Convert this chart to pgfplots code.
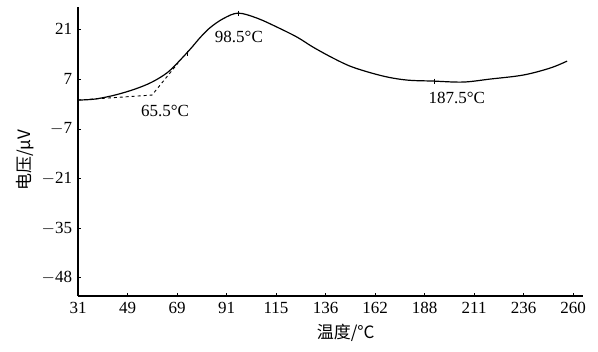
\documentclass[border=0pt]{standalone}
\usepackage{pgfplots}
\pgfplotsset{compat=1.18}
\usepackage{fontspec}
\setmainfont{Liberation Serif}
\newfontfamily\cjk{Noto Sans CJK SC}
\begin{document}
\fontsize{17bp}{20bp}\selectfont
\begin{tikzpicture}[x=1bp,y=1bp]
\path[use as bounding box] (0,0) rectangle (598,351);
\begin{axis}[
  at={(78bp,55bp)}, anchor=south west,
  scale only axis, width=505bp, height=289bp,
  xmin=0, xmax=10.2, ymin=-53.8, ymax=27.2,
  axis lines=left,
  axis line style={-, line width=1.5bp},
  xtick={0,1,2,3,4,5,6,7,8,9,10},
  xticklabels={31,49,69,91,115,136,162,188,211,236,260},
  ytick={21,7,-7,-21,-35,-48.7},
  yticklabels={21,7,$-$7,$-$21,$-$35,$-$48},
  tick align=inside, major tick length=3bp,
  tick style={line width=1bp, black},
  /pgf/number format/assume math mode=true,
  xlabel={\cjk 温度/°C},
  ylabel={\cjk 电压/μV},
  xlabel style={at={(axis description cs:0.53,0)}, anchor=north, yshift=-22bp},
  ylabel style={at={(axis description cs:0,0.47)}, anchor=south, yshift=38bp},
  clip=false,
]
\addplot[smooth, tension=0.55, line width=1.2bp, black] coordinates {
(0,1.12) (0.343,1.4) (0.747,2.52) (1.152,4.2) (1.495,6.16) (1.818,8.96)
(2.101,12.88) (2.303,15.96) (2.465,18.6) (2.667,21.4) (2.929,23.9)
(3.232,25.48) (3.616,24.08) (4.02,21.56) (4.424,18.76) (4.747,15.96)
(5.152,12.88) (5.556,10.3) (6.162,7.84) (6.646,6.72) (7.172,6.44)
(7.778,6.16) (8.323,7.0) (8.99,8.12) (9.535,10.08) (9.879,12.04)
};
\addplot[dashed, line width=0.9bp, black] coordinates {
(0,1.12) (1.495,2.52) (2.02,11.48)
};
\addplot[only marks, mark=|, mark size=2.5bp, line width=1bp, black] coordinates {
(2.22,14.3) (3.232,25.48) (7.21,6.44)
};
\node at (axis cs:1.76,-1.9) {65.5°C};
\node at (axis cs:3.25,18.8) {98.5°C};
\node at (axis cs:7.65,1.6) {187.5°C};
\end{axis}
\end{tikzpicture}
\end{document}
